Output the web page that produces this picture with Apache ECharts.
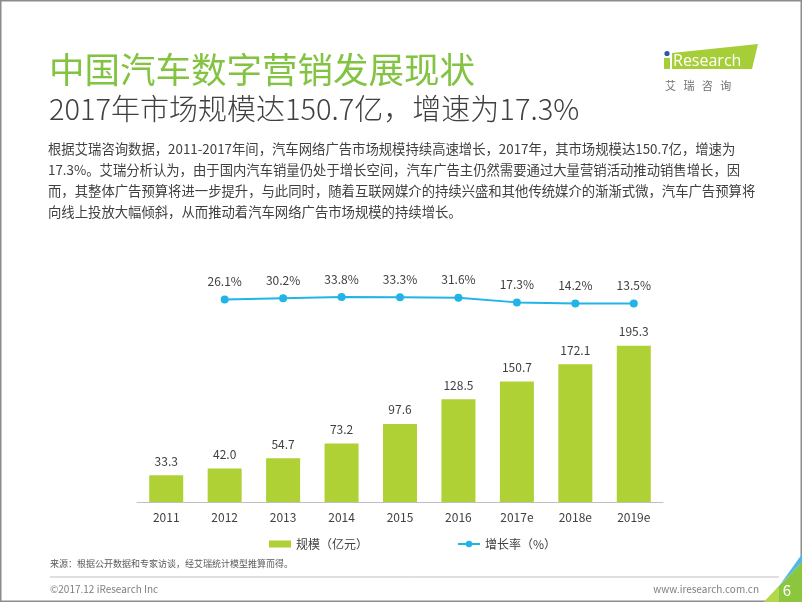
<!DOCTYPE html>
<html>
<head>
<meta charset="utf-8">
<script src="https://cdn.jsdelivr.net/npm/echarts@6/dist/echarts.min.js"></script>
<style>
html,body{margin:0;padding:0;background:#fff;}
#chart{width:802px;height:602px;}
</style>
</head>
<body>
<div id="chart"></div>
<script>
// ---- data ----
const categories = ['2011', '2012', '2013', '2014', '2015', '2016', '2017e', '2018e', '2019e'];
const scaleValues = [33.3, 42.0, 54.7, 73.2, 97.6, 128.5, 150.7, 172.1, 195.3];
const growthValues = [null, 26.1, 30.2, 33.8, 33.3, 31.6, 17.3, 14.2, 13.5];
const seriesNames = ['规模（亿元）', '增长率（%）'];
const titleText = '中国汽车数字营销发展现状';
const subtitleText = '2017年市场规模达150.7亿，增速为17.3%';
const bodyLines = [
  '根据艾瑞咨询数据，2011-2017年间，汽车网络广告市场规模持续高速增长，2017年，其市场规模达150.7亿，增速为',
  '17.3%。艾瑞分析认为，由于国内汽车销量仍处于增长空间，汽车广告主仍然需要通过大量营销活动推动销售增长，因',
  '而，其整体广告预算将进一步提升，与此同时，随着互联网媒介的持续兴盛和其他传统媒介的渐渐式微，汽车广告预算将',
  '向线上投放大幅倾斜，从而推动着汽车网络广告市场规模的持续增长。'
];
const sourceText = '来源：根据公开数据和专家访谈，经艾瑞统计模型推算而得。';
const footerLeft = '©2017.12 iResearch Inc';
const footerRight = 'www.iresearch.com.cn';
const pageNo = '6';

const FONT = '"Noto Sans CJK SC", "Noto Sans", sans-serif';
const GREEN = '#afd135';
const BLUE = '#22b4e6';
const TEXT = '#404040';

const chart = echarts.init(document.getElementById('chart'), null, {renderer: 'canvas'});

const graphics = [
  {type: 'rect', shape: {x: 0.5, y: 0.5, width: 801, height: 601}, style: {fill: 'none', stroke: '#8c8c8c', lineWidth: 2}, silent: true},
  {type: 'text', x: 49, y: 70, style: {text: titleText, font: '35.5px ' + FONT, fill: '#82c341', verticalAlign: 'middle'}},
  {type: 'text', x: 49, y: 109, style: {text: subtitleText, font: '300 29px ' + FONT, fill: '#404040', verticalAlign: 'middle'}},
  // logo
  {type: 'polygon', shape: {points: [[672, 53], [758, 44], [752, 69], [672, 69]]}, style: {fill: '#a6ce39'}},
  {type: 'rect', shape: {x: 664, y: 58, width: 6, height: 11}, style: {fill: '#a6ce39'}},
  {type: 'circle', shape: {cx: 667, cy: 53.5, r: 2.6}, style: {fill: '#2b5aa8'}},
  {type: 'text', x: 673, y: 61, style: {text: 'Research', font: '16px "Open Sans", sans-serif', fill: '#ffffff', verticalAlign: 'middle'}},
  {type: 'text', x: 665, y: 86, style: {text: '艾   瑞   咨   询', font: '11px ' + FONT, fill: '#707070', verticalAlign: 'middle'}},
  // footer
  {type: 'text', x: 50, y: 564, style: {text: sourceText, font: '9px ' + FONT, fill: '#595959', verticalAlign: 'middle'}},
  {type: 'line', shape: {x1: 50, y1: 577, x2: 779, y2: 577}, style: {stroke: '#bfbfbf', lineWidth: 1}},
  {type: 'text', x: 50, y: 589, style: {text: footerLeft, font: '10px ' + FONT, fill: '#7f7f7f', verticalAlign: 'middle'}},
  {type: 'text', x: 759, y: 589, style: {text: footerRight, font: '10px ' + FONT, fill: '#7f7f7f', verticalAlign: 'middle', align: 'right'}},
  // corner
  {type: 'polygon', shape: {points: [[764, 602], [802, 562], [802, 602]]}, style: {fill: '#8cc63f'}},
  {type: 'polygon', shape: {points: [[764, 602], [779, 586], [779, 602]]}, style: {fill: '#b5d84a'}},
  {type: 'polygon', shape: {points: [[777, 589], [802, 554], [802, 562], [782, 583]]}, style: {fill: '#4fb8e6'}},
  {type: 'text', x: 787, y: 590, style: {text: pageNo, font: '15px ' + FONT, fill: '#ffffff', verticalAlign: 'middle', align: 'center'}}
];
bodyLines.forEach(function (t, i) {
  graphics.push({type: 'text', x: 48, y: 149 + i * 21, style: {text: t, font: '13.35px ' + FONT, fill: '#404040', verticalAlign: 'middle'}});
});

const option = {
  animation: false,
  backgroundColor: '#ffffff',
  textStyle: {fontFamily: FONT},
  grid: [
    {left: 137, right: 139, top: 302, height: 200},
    {left: 137, right: 139, top: 295, height: 13}
  ],
  xAxis: [
    {type: 'category', gridIndex: 0, data: categories,
     axisLine: {lineStyle: {color: '#bfbfbf', width: 1}}, axisTick: {show: false},
     axisLabel: {color: TEXT, fontSize: 12, margin: 9, fontFamily: FONT}},
    {type: 'category', gridIndex: 1, data: categories, show: false}
  ],
  yAxis: [
    {type: 'value', gridIndex: 0, min: 0, max: 250, show: false, splitLine: {show: false}},
    {type: 'value', gridIndex: 1, min: 0, max: 40, show: false, splitLine: {show: false}}
  ],
  legend: [
    {left: 264, top: 533, itemWidth: 22, itemHeight: 7, icon: 'rect', itemGap: 10,
     data: [seriesNames[0]], textStyle: {color: TEXT, fontSize: 12, fontFamily: FONT}},
    {left: 452, top: 533, itemWidth: 22, itemHeight: 8, itemGap: 10,
     data: [seriesNames[1]], textStyle: {color: TEXT, fontSize: 12, fontFamily: FONT}}
  ],
  series: [
    {name: seriesNames[0], type: 'bar', xAxisIndex: 0, yAxisIndex: 0, data: scaleValues,
     barWidth: 34, itemStyle: {color: GREEN},
     label: {show: true, position: 'top', distance: 8, color: TEXT, fontSize: 12, fontFamily: FONT,
             formatter: function (p) { return p.value.toFixed(1); }}},
    {name: seriesNames[1], type: 'line', xAxisIndex: 1, yAxisIndex: 1, data: growthValues,
     symbol: 'circle', symbolSize: 8, lineStyle: {color: BLUE, width: 2}, itemStyle: {color: BLUE},
     label: {show: true, position: 'top', distance: 8, color: TEXT, fontSize: 12, fontFamily: FONT,
             formatter: function (p) { return p.value.toFixed(1) + '%'; }}}
  ],
  graphic: graphics
};
chart.setOption(option);
</script>
</body>
</html>
